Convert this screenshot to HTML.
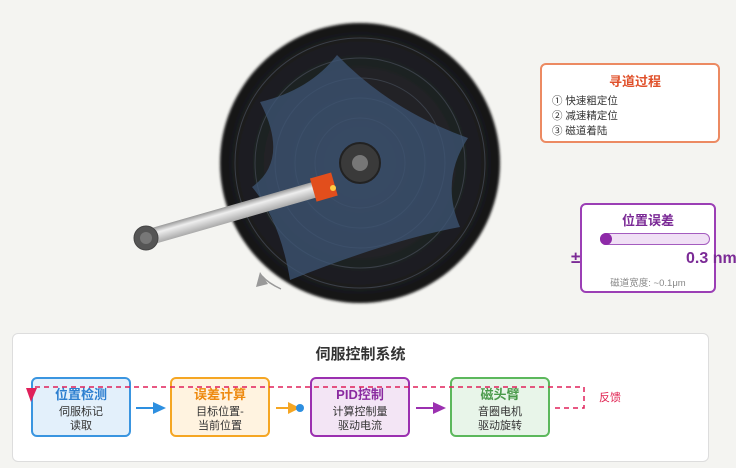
<!DOCTYPE html>
<html><head><meta charset="utf-8"><style>
body{margin:0;width:736px;height:468px;background:#f4f4f1;font-family:"Liberation Sans","Noto Sans CJK SC",sans-serif;overflow:hidden;position:relative}
.abs{position:absolute}
.box{position:absolute;border-radius:6px;box-sizing:border-box;text-align:center}
</style></head><body>
<svg class="abs" style="left:0;top:0" width="736" height="468">
<defs>
<radialGradient id="dg" cx="50%" cy="50%" r="50%"><stop offset="0" stop-color="#2a2d33"/><stop offset="0.85" stop-color="#1d1e21"/><stop offset="1" stop-color="#141414"/></radialGradient>
<linearGradient id="tube" x1="0" y1="0" x2="0" y2="1"><stop offset="0" stop-color="#999"/><stop offset="0.35" stop-color="#eee"/><stop offset="1" stop-color="#aaa"/></linearGradient>
<filter id="bl"><feGaussianBlur stdDeviation="1.2"/></filter>
</defs>
<circle cx="360" cy="163" r="140" fill="url(#dg)" filter="url(#bl)"/>
<g fill="none" stroke="#3a3f48" stroke-width="1">
<circle cx="360" cy="163" r="125"/><circle cx="360" cy="163" r="105"/><circle cx="360" cy="163" r="85"/><circle cx="360" cy="163" r="65"/><circle cx="360" cy="163" r="45"/>
</g>
<path d="M337,55 Q390,110 468,138 Q440,180 460,227 Q390,240 290,280 Q280,220 252,187 Q290,160 260,102 Q310,90 337,55Z" fill="#3d5675" opacity="0.75"/>
<circle cx="360" cy="163" r="20" fill="#3a3a3a" stroke="#222" stroke-width="2"/>
<circle cx="360" cy="163" r="8" fill="#777"/>
<g transform="translate(146,238) rotate(-16)">
<rect x="0" y="-8" width="175" height="16" fill="url(#tube)"/>
<rect x="174" y="-12" width="22" height="24" fill="#e24e1c"/>
</g>
<circle cx="333" cy="188" r="3" fill="#ffcc44"/>
<circle cx="146" cy="238" r="12" fill="#555" stroke="#444" stroke-width="1"/>
<circle cx="146" cy="238" r="6" fill="#777"/>
<path d="M281,289 Q268,283 262,276" fill="none" stroke="#999" stroke-width="1.5"/>
<path d="M256,287 L260,272 L268,284 Z" fill="#999"/>
</svg>

<div class="box" style="left:540px;top:63px;width:180px;height:80px;background:#fff;border:2px solid #ec8a62;text-align:left;padding-left:10px">
<div style="color:#e0502a;font-weight:bold;font-size:13px;text-align:center;margin-top:6px">寻道过程</div>
<div style="font-size:10.5px;color:#333;line-height:15px;margin-top:4px">① 快速粗定位<br>② 减速精定位<br>③ 磁道着陆</div>
</div>

<div class="abs" style="left:571px;top:248px;color:#7b2a96;font-weight:bold;font-size:17px">±</div>
<div class="box" style="left:580px;top:203px;width:136px;height:90px;background:#fff;border:2px solid #9b3fb5">
<div style="color:#7b2a96;font-weight:bold;font-size:13px;margin-top:5px">位置误差</div>
<div class="abs" style="left:18px;top:28px;width:110px;height:12px;border:1px solid #a45cbf;border-radius:6px;background:#f0e0f5;box-sizing:border-box"></div>
<div class="abs" style="left:18px;top:28px;width:12px;height:12px;border-radius:6px;background:#8e2aa8"></div>
<div class="abs" style="left:104px;top:45px;color:#7b2a96;font-weight:bold;font-size:16px;white-space:nowrap">0.3 nm</div>
<div class="abs" style="left:0;top:70px;width:100%;color:#888;font-size:9.5px">磁道宽度: ~0.1μm</div>
</div>

<div class="box" style="left:12px;top:333px;width:697px;height:129px;background:#fff;border:1px solid #ddd">
<div style="font-weight:bold;font-size:15px;color:#333;margin-top:9px">伺服控制系统</div>
</div>
<div class="box" style="left:31px;top:377px;width:100px;height:60px;background:#e3f0fb;border:2px solid #3a95e0"><div style="color:#2d7fd0;font-weight:bold;font-size:13px;margin-top:5px">位置检测</div><div style="font-size:11px;color:#333;line-height:14px;margin-top:2px">伺服标记<br>读取</div></div>
<div class="box" style="left:170px;top:377px;width:100px;height:60px;background:#fff3e0;border:2px solid #f5a623"><div style="color:#ee8a10;font-weight:bold;font-size:13px;margin-top:5px">误差计算</div><div style="font-size:11px;color:#333;line-height:14px;margin-top:2px">目标位置-<br>当前位置</div></div>
<div class="box" style="left:310px;top:377px;width:100px;height:60px;background:#f3e5f5;border:2px solid #9b30b0"><div style="color:#8a2aa0;font-weight:bold;font-size:13px;margin-top:5px">PID控制</div><div style="font-size:11px;color:#333;line-height:14px;margin-top:2px">计算控制量<br>驱动电流</div></div>
<div class="box" style="left:450px;top:377px;width:100px;height:60px;background:#e8f5e9;border:2px solid #5cb85c"><div style="color:#4a9a4a;font-weight:bold;font-size:13px;margin-top:5px">磁头臂</div><div style="font-size:11px;color:#333;line-height:14px;margin-top:2px">音圈电机<br>驱动旋转</div></div>
<div class="abs" style="left:599px;top:389px;color:#e02050;font-size:11px">反馈</div>
<svg class="abs" style="left:0;top:0" width="736" height="468">
<path d="M136,408 H156" stroke="#2d8fe0" stroke-width="2"/><path d="M153,402 L166,408 L153,414Z" fill="#2d8fe0"/>
<path d="M276,408 H292" stroke="#f5a623" stroke-width="2"/><path d="M288,402 L300,408 L288,414Z" fill="#f5a623"/><circle cx="300" cy="408" r="4" fill="#2d8fe0"/>
<path d="M416,408 H436" stroke="#9b30b0" stroke-width="2"/><path d="M433,402 L446,408 L433,414Z" fill="#9b30b0"/>
<path d="M555,408 H584 V387 H32 V392" fill="none" stroke="#e0205a" stroke-width="1.5" stroke-dasharray="5,4"/>
<path d="M26,388 L37,388 L31,402Z" fill="#e0205a"/>
</svg>
</body></html>
